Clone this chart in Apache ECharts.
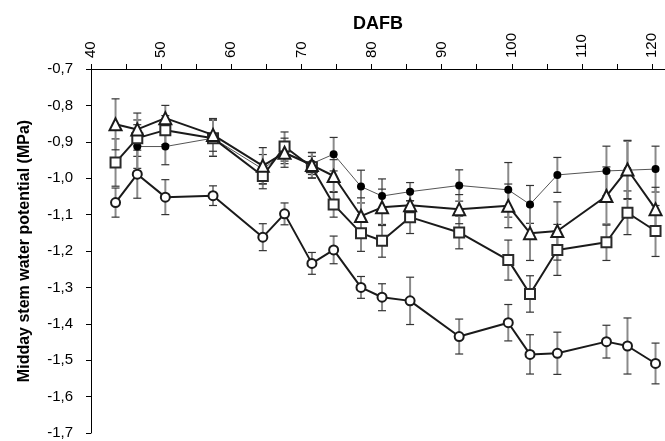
<!DOCTYPE html>
<html>
<head>
<meta charset="utf-8">
<script src="https://cdn.jsdelivr.net/npm/echarts@6/dist/echarts.min.js"></script>
<style>
  html, body { margin: 0; padding: 0; background: #fff; }
  #chart { width: 665px; height: 441px; }
</style>
</head>
<body>
<div id="chart"></div>
<script>
  // days after full bloom (x positions of the sampling dates)
  var dafb = [43.5, 46.6, 50.6, 57.4, 64.5, 67.6, 71.5, 74.6, 78.5, 81.5, 85.5, 92.5, 99.5, 102.6, 106.5, 113.5, 116.5, 120.5]

  var filledVals = [null, -0.913, -0.913, -0.89, -0.975, -0.93, -0.96, -0.934, -1.023, -1.049, -1.037, -1.02, -1.032, -1.072, -0.991, -0.98, -0.978, -0.975]
  var filledErr = [null, 0.06, 0.05, 0.05, 0.04, 0.03, 0.03, 0.046, 0.045, 0.047, 0.025, 0.043, 0.075, 0.052, 0.048, 0.068, 0.08, 0.063]

  var triVals = [-0.852, -0.866, -0.835, -0.881, -0.966, -0.93, -0.964, -0.994, -1.104, -1.08, -1.074, -1.085, -1.076, -1.151, -1.145, -1.049, -0.976, -1.085]
  var triErr = [0.07, 0.045, 0.035, 0.045, 0.05, 0.04, 0.035, 0.045, 0.05, 0.05, 0.04, 0.04, 0.06, 0.075, 0.08, 0.08, 0.08, 0.06]

  var sqVals = [-0.957, -0.89, -0.868, -0.89, -0.994, -0.913, -0.97, -1.072, -1.151, -1.172, -1.107, -1.149, -1.225, -1.318, -1.197, -1.176, -1.095, -1.145]
  var sqErr = [0.065, 0.05, 0.04, 0.05, 0.035, 0.04, 0.03, 0.035, 0.05, 0.045, 0.045, 0.045, 0.055, 0.05, 0.07, 0.05, 0.06, 0.07]

  var circVals = [-1.067, -0.989, -1.052, -1.048, -1.162, -1.098, -1.234, -1.197, -1.3, -1.327, -1.337, -1.435, -1.397, -1.484, -1.481, -1.449, -1.461, -1.509]
  var circErr = [0.04, 0.066, 0.048, 0.027, 0.037, 0.03, 0.03, 0.038, 0.03, 0.037, 0.065, 0.048, 0.05, 0.054, 0.058, 0.045, 0.077, 0.056]

  var xTicks = [40, 45, 50, 55, 60, 65, 70, 75, 80, 85, 90, 95, 100, 105, 110, 115, 120]
  var xLabels = [40, 50, 60, 70, 80, 90, 100, 110, 120]

  function points(vals) {
    var out = []
    vals.forEach(function (v, i) {
      if (v !== null) out.push([dafb[i], v])
    })
    return out
  }

  function bars(vals, errs) {
    var out = []
    vals.forEach(function (v, i) {
      if (v !== null) out.push([dafb[i], v - errs[i], v + errs[i]])
    })
    return out
  }

  function errorSeries(vals, errs) {
    return {
      type: 'custom',
      z: 1,
      silent: true,
      data: bars(vals, errs),
      encode: { x: 0, y: [1, 2] },
      renderItem: function (params, api) {
        var lo = api.coord([api.value(0), api.value(1)])
        var hi = api.coord([api.value(0), api.value(2)])
        var w = 4
        return {
          type: 'group',
          children: [
            { type: 'line', shape: { x1: lo[0], y1: lo[1], x2: hi[0], y2: hi[1] },
              style: { stroke: '#8a8a8a', lineWidth: 2 } },
            { type: 'line', shape: { x1: lo[0] - w, y1: lo[1], x2: lo[0] + w, y2: lo[1] },
              style: { stroke: '#333', lineWidth: 1.2 } },
            { type: 'line', shape: { x1: hi[0] - w, y1: hi[1], x2: hi[0] + w, y2: hi[1] },
              style: { stroke: '#333', lineWidth: 1.2 } }
          ]
        }
      }
    }
  }

  // vertical tick labels along the top axis, placed via the x scale
  var xLabelSeries = {
    type: 'custom',
    silent: true,
    clip: false,
    z: 10,
    data: xLabels.map(function (v) { return [v, -0.7] }),
    encode: { x: 0, y: 1 },
    renderItem: function (params, api) {
      var p = api.coord([api.value(0), api.value(1)])
      return {
        type: 'text',
        x: p[0],
        y: p[1] - 11,
        rotation: Math.PI / 2,
        style: {
          text: String(api.value(0)),
          fontFamily: 'Liberation Sans',
          fontSize: 15,
          fill: '#000',
          align: 'left',
          verticalAlign: 'middle'
        }
      }
    }
  }

  var chart = echarts.init(document.getElementById('chart'))
  chart.setOption({
    animation: false,
    backgroundColor: '#fff',
    grid: { left: 91, right: 0, top: 69, bottom: 8 },
    xAxis: {
      type: 'value',
      position: 'top',
      min: 40,
      max: 121.85,
      name: 'DAFB',
      nameLocation: 'middle',
      nameGap: 36,
      nameTextStyle: { fontFamily: 'Liberation Sans', fontWeight: 'bold', fontSize: 18, color: '#000' },
      axisLine: { lineStyle: { color: '#000', width: 1 } },
      axisTick: { show: true, length: 5, customValues: xTicks, lineStyle: { color: '#000' } },
      axisLabel: { show: false },
      splitLine: { show: false }
    },
    yAxis: {
      type: 'value',
      min: -1.7,
      max: -0.7,
      interval: 0.1,
      name: 'Midday stem water potential (MPa)',
      nameLocation: 'middle',
      nameGap: 58,
      nameTextStyle: { fontFamily: 'Liberation Sans', fontWeight: 'bold', fontSize: 16, color: '#000' },
      axisLine: { show: true, lineStyle: { color: '#000', width: 1 } },
      axisTick: { show: true, length: 5, lineStyle: { color: '#000' } },
      axisLabel: {
        margin: 18,
        fontFamily: 'Liberation Sans',
        fontSize: 15,
        color: '#000',
        formatter: function (v) { return v.toFixed(1).replace('.', ',') }
      },
      splitLine: { show: false }
    },
    series: [
      errorSeries(filledVals, filledErr),
      errorSeries(sqVals, sqErr),
      errorSeries(triVals, triErr),
      errorSeries(circVals, circErr),
      {
        type: 'line',
        z: 2,
        data: points(filledVals),
        symbol: 'circle',
        symbolSize: 8,
        lineStyle: { color: '#555', width: 1 },
        itemStyle: { color: '#000', borderColor: '#000', borderWidth: 0 }
      },
      {
        type: 'line',
        z: 3,
        data: points(sqVals),
        symbol: 'rect',
        symbolSize: 10,
        lineStyle: { color: '#1a1a1a', width: 2 },
        itemStyle: { color: '#fff', borderColor: '#2a2a2a', borderWidth: 2 }
      },
      {
        type: 'line',
        z: 4,
        data: points(triVals),
        symbol: 'triangle',
        symbolSize: 12,
        lineStyle: { color: '#1a1a1a', width: 2 },
        itemStyle: { color: '#fff', borderColor: '#1a1a1a', borderWidth: 2 }
      },
      {
        type: 'line',
        z: 5,
        data: points(circVals),
        symbol: 'circle',
        symbolSize: 9,
        lineStyle: { color: '#1a1a1a', width: 2 },
        itemStyle: { color: '#fff', borderColor: '#1a1a1a', borderWidth: 2 }
      },
      xLabelSeries
    ]
  })
</script>
</body>
</html>
